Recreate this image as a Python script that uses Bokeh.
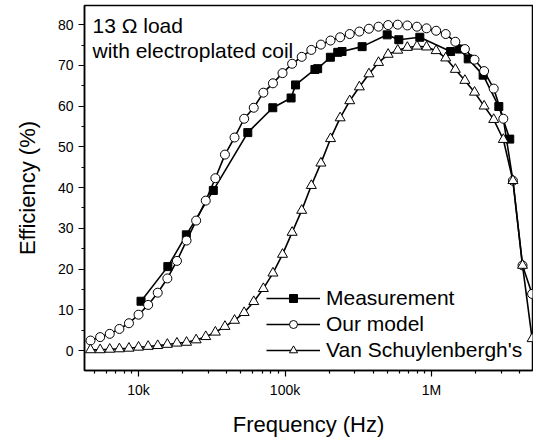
from bokeh.plotting import figure
from bokeh.models import FixedTicker, Range1d, Label, Legend, LegendItem
from bokeh.embed import file_html
from bokeh.resources import INLINE

# ---------------- data ----------------
model_freq = [4700, 5470, 6360, 7400, 8600, 10000, 11630, 13520, 15730, 18290,
              21270, 24730, 28760, 33450, 38890, 45230, 52600, 61150, 71120, 82700,
              96140, 111800, 130000, 151200, 175800, 204500, 237800, 276500, 321600,
              373900, 434800, 505600, 588000, 683800, 795100, 924500, 1075000,
              1250000, 1454000, 1690000, 1966000, 2286000, 2658000, 3091000,
              3594000, 4180000, 4860000]
our_model = [2.45, 3.3, 4.1, 5.3, 6.7, 8.8, 11.2, 14.2, 17.7, 22.0,
             27.0, 31.9, 36.8, 42.3, 48.1, 52.3, 56.9, 59.6, 63.3, 65.6,
             68.1, 70.4, 72.1, 73.8, 75.1, 76.1, 76.9, 77.7, 78.3, 79.0,
             79.5, 79.9, 80.0, 79.8, 79.5, 79.1, 78.5, 77.7, 75.8, 74.0,
             71.4, 68.6, 64.3, 56.9, 41.7, 20.9, 13.9]
van_schuylenbergh = [0.17, 0.17, 0.3, 0.4, 0.55, 0.8, 1.0, 1.2, 1.5, 1.8,
                     2.0, 2.6, 3.4, 4.5, 5.9, 7.4, 9.3, 12.0, 15.2, 19.0,
                     23.6, 29.0, 34.4, 40.5, 46.0, 52.0, 57.1, 61.3, 64.7, 67.9,
                     70.7, 72.7, 73.7, 74.4, 74.7, 74.5, 73.6, 71.8, 69.0, 66.3,
                     63.4, 60.0, 56.7, 51.8, 41.7, 20.9, 2.9]
meas_freq = [10400, 15850, 21200, 32400, 55700, 82500, 110000, 118000, 160000,
             167000, 204000, 229000, 245000, 336000, 498000, 598000, 832000,
             1350000, 1550000, 1780000, 2250000, 2880000, 3420000]
measurement = [12.1, 20.6, 28.4, 39.3, 53.5, 59.6, 62.0, 65.2, 69.0,
               69.2, 72.0, 73.2, 73.4, 74.6, 77.5, 76.3, 76.9,
               73.4, 74.0, 71.6, 67.6, 59.9, 51.9]

x_tick_values = [10000, 100000, 1000000]
x_tick_labels = ["10k", "100k", "1M"]
y_tick_values = [0, 10, 20, 30, 40, 50, 60, 70, 80]
y_minor_values = [5, 15, 25, 35, 45, 55, 65, 75]
x_minor_values = [m * 10 ** e for e in range(3, 7) for m in range(2, 10)]

series_names = ["Measurement", "Our model", "Van Schuylenbergh's"]
annotation_lines = ["13 \u03a9 load", "with electroplated coil"]

FONT = "Liberation Sans"

p = figure(width=533, height=439, x_axis_type="log",
           x_range=Range1d(4277, 4.89e6), y_range=Range1d(-4.9, 84.7),
           output_backend="svg", toolbar_location=None,
           min_border_left=84, min_border_right=1, min_border_top=5,
           min_border_bottom=69)
p.background_fill_color = "white"
p.border_fill_color = "white"
p.outline_line_color = "black"
p.outline_line_width = 1.5
p.xgrid.visible = False
p.ygrid.visible = False

# axes
p.xaxis.ticker = FixedTicker(ticks=x_tick_values, minor_ticks=x_minor_values)
p.xaxis.major_label_overrides = {v: l for v, l in zip(x_tick_values, x_tick_labels)}
p.yaxis.ticker = FixedTicker(ticks=y_tick_values, minor_ticks=y_minor_values)
for ax in (p.xaxis[0], p.yaxis[0]):
    ax.axis_line_width = 1.5
    ax.axis_line_color = "black"
    ax.major_tick_line_color = "black"
    ax.minor_tick_line_color = "black"
    ax.major_tick_line_width = 1.2
    ax.minor_tick_line_width = 1.2
    ax.major_tick_in = 0
    ax.major_tick_out = 6
    ax.minor_tick_in = 0
    ax.minor_tick_out = 3
    ax.major_label_text_font = FONT
    ax.major_label_text_font_size = "14px"
    ax.major_label_text_color = "black"
    ax.axis_label_text_font = FONT
    ax.axis_label_text_font_size = "22px"
    ax.axis_label_text_font_style = "normal"
    ax.axis_label_text_color = "black"
p.xaxis.axis_label = "Frequency (Hz)"
p.yaxis.axis_label = "Efficiency (%)"
p.xaxis.major_label_standoff = 5
p.yaxis.major_label_standoff = 5
p.xaxis.axis_label_standoff = 11
p.yaxis.axis_label_standoff = 15

# series
lw = 1.6
l_meas = p.line(meas_freq, measurement, line_color="black", line_width=lw)
s_meas = p.scatter(meas_freq, measurement, marker="square", size=8,
                   fill_color="black", line_color="black")
l_mod = p.line(model_freq, our_model, line_color="black", line_width=lw)
s_mod = p.scatter(model_freq, our_model, marker="circle", size=9,
                  fill_color="white", line_color="black", line_width=1)
l_van = p.line(model_freq, van_schuylenbergh, line_color="black", line_width=lw)
s_van = p.scatter(model_freq, van_schuylenbergh, marker="triangle", size=10,
                  fill_color="white", line_color="black", line_width=1)

legend = Legend(items=[
    LegendItem(label=series_names[0], renderers=[l_meas, s_meas]),
    LegendItem(label=series_names[1], renderers=[l_mod, s_mod]),
    LegendItem(label=series_names[2], renderers=[l_van, s_van]),
], location=(182, 8))
legend.glyph_width = 54
legend.glyph_height = 20
legend.label_height = 20
legend.spacing = 2
legend.padding = 0
legend.margin = 0
legend.label_standoff = 6
legend.border_line_alpha = 0
legend.background_fill_alpha = 0
legend.label_text_font = FONT
legend.label_text_font_size = "21px"
legend.label_text_color = "black"
p.add_layout(legend, "center")

# annotation text
ann1 = Label(x=4850, y=79.8, text=annotation_lines[0], text_font=FONT,
             text_font_size="21px", text_baseline="alphabetic", text_color="black")
ann2 = Label(x=4850, y=73.7, text=annotation_lines[1], text_font=FONT,
             text_font_size="21px", text_baseline="alphabetic", text_color="black")
p.add_layout(ann1)
p.add_layout(ann2)

open("out.html", "w").write(file_html(p, INLINE))
